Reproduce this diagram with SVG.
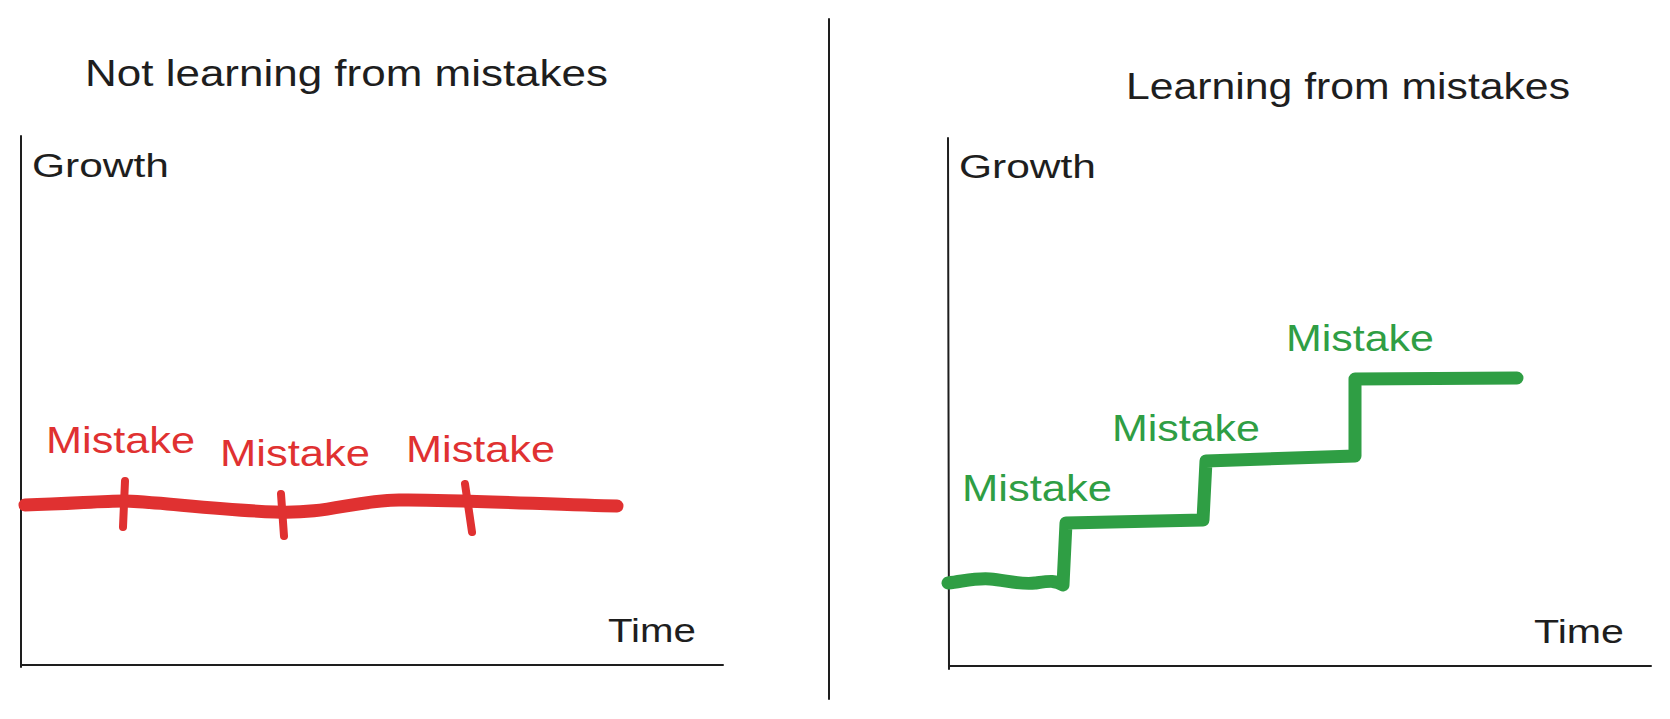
<svg xmlns="http://www.w3.org/2000/svg" width="1670" height="719" viewBox="0 0 1670 719">
<style>
  .t { font-family: "Liberation Sans", Arial, sans-serif; fill: #1e1e1e; }
  .title { font-size: 36px; }
  .axlab { font-size: 34px; }
  .mk { font-family: "Liberation Sans", Arial, sans-serif; font-size: 37px; }
  .red { fill: #e03131; }
  .green { fill: #2f9e44; }
  .axis { stroke: #1e1e1e; stroke-width: 2; fill: none; stroke-linecap: round; }
  .redline { stroke: #e03131; fill: none; stroke-linecap: round; stroke-linejoin: round; }
  .greenline { stroke: #2f9e44; fill: none; stroke-width: 13; stroke-linecap: round; stroke-linejoin: round; }
</style>
<rect width="1670" height="719" fill="#ffffff"/>

<g id="divider">
  <line class="axis" x1="829" y1="19" x2="829" y2="699"/>
</g>

<g id="left-chart">
  <text class="t title" x="85" y="86" textLength="523" lengthAdjust="spacingAndGlyphs">Not learning from mistakes</text>
  <line class="axis" x1="21" y1="136" x2="21" y2="667"/>
  <line class="axis" x1="21" y1="665" x2="723" y2="665"/>
  <text class="t axlab" x="32" y="177" textLength="137" lengthAdjust="spacingAndGlyphs">Growth</text>
  <text class="t axlab" x="608" y="642" textLength="88" lengthAdjust="spacingAndGlyphs">Time</text>
  <path class="redline" stroke-width="13" d="M25,505 C70,504 100,501 124,501 S220,510 275,512 S350,501 399,500 S560,505 617,506"/>
  <path class="redline" stroke-width="8" d="M125,481 L123,527"/>
  <path class="redline" stroke-width="8" d="M281,494 L284,536"/>
  <path class="redline" stroke-width="8" d="M465,484 L472,532"/>
  <text class="mk red" x="46" y="453" textLength="149" lengthAdjust="spacingAndGlyphs">Mistake</text>
  <text class="mk red" x="220" y="466" textLength="150" lengthAdjust="spacingAndGlyphs">Mistake</text>
  <text class="mk red" x="406" y="462" textLength="149" lengthAdjust="spacingAndGlyphs">Mistake</text>
</g>

<g id="right-chart">
  <text class="t title" x="1126" y="99" textLength="444" lengthAdjust="spacingAndGlyphs">Learning from mistakes</text>
  <line class="axis" x1="948" y1="138" x2="949" y2="669"/>
  <line class="axis" x1="949" y1="666" x2="1651" y2="666"/>
  <text class="t axlab" x="959" y="178" textLength="137" lengthAdjust="spacingAndGlyphs">Growth</text>
  <text class="t axlab" x="1534" y="643" textLength="90" lengthAdjust="spacingAndGlyphs">Time</text>
  <path class="greenline" d="M948,583 C965,581 975,578 990,579 S1020,585 1035,583 S1055,580 1063,585 L1066,523 L1203,520 L1206,461 L1355,456 L1355,379 L1517,378"/>
  <text class="mk green" x="962" y="501" textLength="150" lengthAdjust="spacingAndGlyphs">Mistake</text>
  <text class="mk green" x="1112" y="441" textLength="148" lengthAdjust="spacingAndGlyphs">Mistake</text>
  <text class="mk green" x="1286" y="351" textLength="148" lengthAdjust="spacingAndGlyphs">Mistake</text>
</g>
</svg>
